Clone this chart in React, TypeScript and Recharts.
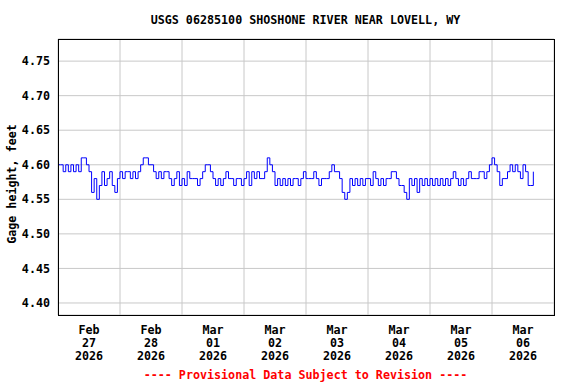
import { LineChart, Line, XAxis, YAxis, CartesianGrid } from 'recharts';

// hourly gage height (ft), starting Feb 27 2026 00:00
const feb27 = [4.60, 4.60, 4.59, 4.60, 4.59, 4.60, 4.59, 4.60, 4.59, 4.61, 4.61, 4.60, 4.59, 4.56, 4.58, 4.55, 4.57, 4.59, 4.57, 4.58, 4.59, 4.57, 4.56, 4.58];
const feb28 = [4.59, 4.58, 4.59, 4.59, 4.58, 4.59, 4.58, 4.59, 4.60, 4.61, 4.61, 4.60, 4.60, 4.59, 4.58, 4.59, 4.58, 4.59, 4.59, 4.58, 4.57, 4.58, 4.59, 4.57];
const mar01 = [4.58, 4.57, 4.59, 4.58, 4.58, 4.58, 4.57, 4.58, 4.59, 4.60, 4.60, 4.59, 4.58, 4.57, 4.58, 4.57, 4.58, 4.59, 4.58, 4.58, 4.57, 4.58, 4.58, 4.57];
const mar02 = [4.58, 4.59, 4.57, 4.59, 4.58, 4.59, 4.58, 4.58, 4.59, 4.61, 4.60, 4.59, 4.57, 4.58, 4.57, 4.58, 4.57, 4.58, 4.57, 4.58, 4.58, 4.57, 4.58, 4.59];
const mar03 = [4.58, 4.58, 4.58, 4.59, 4.58, 4.57, 4.58, 4.58, 4.58, 4.59, 4.60, 4.59, 4.59, 4.58, 4.56, 4.55, 4.56, 4.58, 4.57, 4.58, 4.57, 4.58, 4.57, 4.58];
const mar04 = [4.58, 4.57, 4.59, 4.58, 4.57, 4.58, 4.57, 4.58, 4.58, 4.59, 4.59, 4.58, 4.57, 4.57, 4.56, 4.55, 4.58, 4.57, 4.58, 4.56, 4.58, 4.57, 4.58, 4.57];
const mar05 = [4.58, 4.57, 4.58, 4.57, 4.58, 4.57, 4.58, 4.57, 4.58, 4.59, 4.58, 4.57, 4.58, 4.57, 4.58, 4.59, 4.58, 4.58, 4.58, 4.59, 4.59, 4.58, 4.59, 4.60];
const mar06 = [4.61, 4.60, 4.59, 4.57, 4.58, 4.58, 4.59, 4.60, 4.59, 4.60, 4.59, 4.58, 4.60, 4.59, 4.57, 4.57, 4.59];

const gageHeight = [...feb27, ...feb28, ...mar01, ...mar02, ...mar03, ...mar04, ...mar05, ...mar06];
const data = gageHeight.map((v, i) => ({ hour: i, value: v }));

const labelHours = [12, 36, 60, 84, 108, 132, 156, 180];
const labelMonths = ['Feb', 'Feb', 'Mar', 'Mar', 'Mar', 'Mar', 'Mar', 'Mar'];
const labelDays = ['27', '28', '01', '02', '03', '04', '05', '06'];
const labelYear = '2026';
const midnights = [24, 48, 72, 96, 120, 144, 168];
const yTicks = [4.4, 4.45, 4.5, 4.55, 4.6, 4.65, 4.7, 4.75];

const FONT = '"DejaVu Sans Mono", "Liberation Mono", monospace';
const FS = 11.7;

const DateTick = ({ x, y, payload }: any) => {
  const i = labelHours.indexOf(payload.value);
  return (
    <text x={x} y={y} textAnchor="middle" fontFamily={FONT} fontWeight="bold" fontSize={FS} fill="#000">
      <tspan x={x} dy={19}>{labelMonths[i]}</tspan>
      <tspan x={x} dy={13}>{labelDays[i]}</tspan>
      <tspan x={x} dy={13}>{labelYear}</tspan>
    </text>
  );
};

const YLabel = () => (
  <text
    transform="translate(12, 184) rotate(-90)"
    textAnchor="middle"
    dominantBaseline="central"
    fontFamily={FONT}
    fontWeight="bold"
    fontSize={FS}
    fill="#000"
  >
    Gage height, feet
  </text>
);

export default function App() {
  return (
    <div style={{ position: 'absolute', left: 0, top: 0, width: 576, height: 384, background: '#fff' }}>
      <div
        style={{
          position: 'absolute', left: 0, top: 13, width: 611, textAlign: 'center',
          fontFamily: FONT, fontWeight: 'bold', fontSize: FS, lineHeight: '14px', color: '#000',
        }}
      >
        USGS 06285100 SHOSHONE RIVER NEAR LOVELL, WY
      </div>
      <LineChart width={576} height={384} data={data} margin={{ top: 39, right: 22, bottom: 0, left: 0 }}>
        <XAxis xAxisId="grid" dataKey="hour" type="number" domain={[0, 192]} ticks={midnights} hide />
        <CartesianGrid xAxisId="grid" stroke="#c8c8c8" strokeWidth={1} />
        <XAxis
          dataKey="hour"
          type="number"
          domain={[0, 192]}
          ticks={labelHours}
          tick={<DateTick />}
          tickLine={false}
          axisLine={false}
          tickSize={0}
          tickMargin={0}
          height={69}
          interval={0}
        />
        <YAxis
          type="number"
          domain={[4.3826, 4.782]}
          allowDataOverflow
          ticks={yTicks}
          interval={0}
          tickFormatter={(v: number) => v.toFixed(2)}
          tick={{ fontFamily: FONT, fontWeight: 'bold', fontSize: FS, fill: '#000' }}
          tickLine={false}
          axisLine={false}
          tickSize={0}
          tickMargin={8}
          width={58}
          label={<YLabel />}
        />
        <Line
          type="stepAfter"
          dataKey="value"
          stroke="#0000ff"
          strokeWidth={1}
          dot={false}
          isAnimationActive={false}
        />
      </LineChart>
      <div
        style={{
          position: 'absolute', left: 58, top: 39, width: 497, height: 277,
          border: '1px solid #000', boxSizing: 'border-box', pointerEvents: 'none',
        }}
      />
      <div
        style={{
          position: 'absolute', left: 0, top: 368, width: 611, textAlign: 'center',
          fontFamily: FONT, fontWeight: 'bold', fontSize: FS, lineHeight: '14px', color: '#ff0000',
        }}
      >
        ---- Provisional Data Subject to Revision ----
      </div>
    </div>
  );
}
